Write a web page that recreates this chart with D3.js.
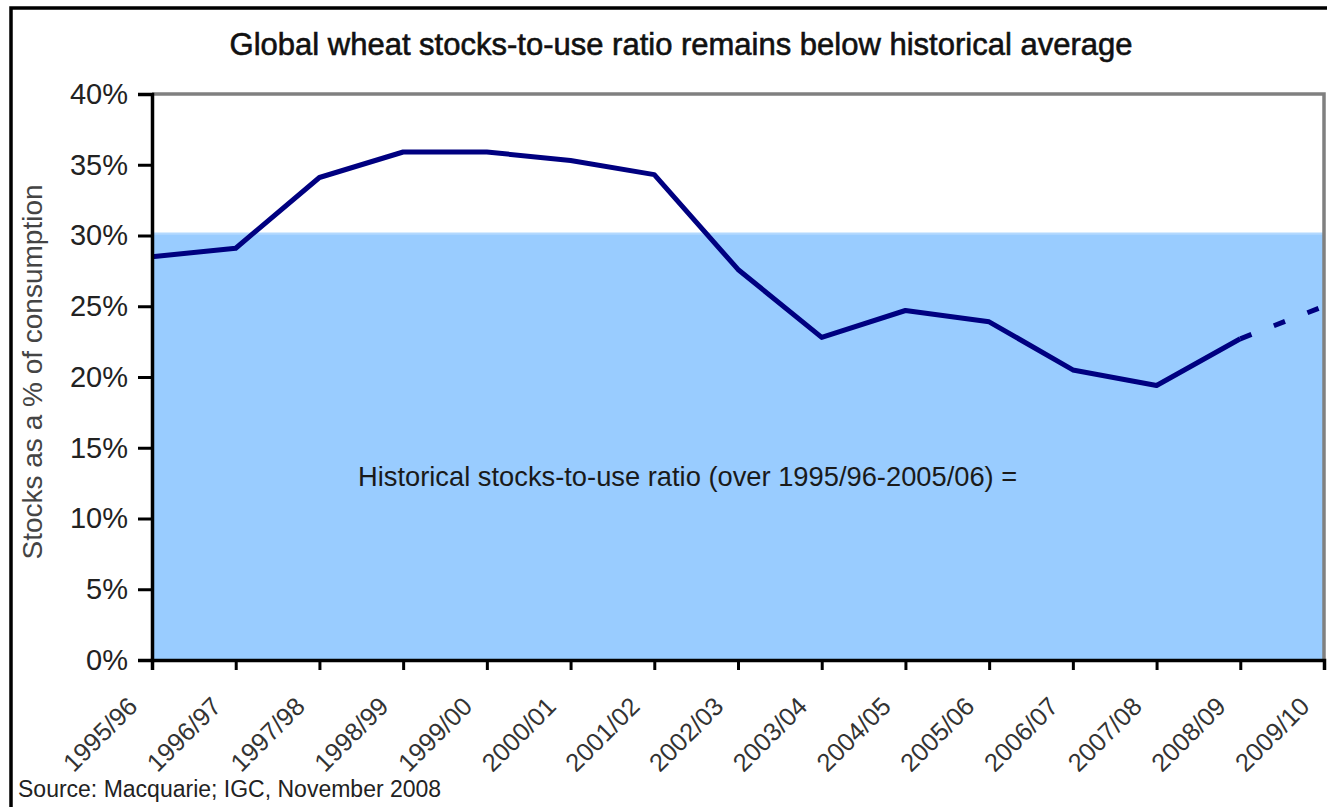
<!DOCTYPE html>
<html>
<head>
<meta charset="utf-8">
<script src="https://cdn.jsdelivr.net/npm/d3@7"></script>
<style>
  body { margin: 0; background: #fff; }
  svg text { font-family: "Liberation Sans", Arial, sans-serif; }
</style>
</head>
<body>
<div id="chart"></div>
<script>
// Global wheat stocks-to-use ratio (Macquarie; IGC, November 2008)

var seasons = ["1995/96", "1996/97", "1997/98", "1998/99", "1999/00", "2000/01", "2001/02",
  "2002/03", "2003/04", "2004/05", "2005/06", "2006/07", "2007/08", "2008/09", "2009/10"];
var stocksToUse = [28.5, 29.1, 34.1, 35.9, 35.9, 35.3, 34.3, 27.6, 22.8, 24.7, 23.9, 20.5, 19.4, 22.7, 25.0];
var historicalAvg = 30.2;
var yTicks = [0, 5, 10, 15, 20, 25, 30, 35, 40];

var width = 1327, height = 807;
var margin = { left: 152, right: 3, top: 94, bottom: 147 };

var svg = d3.select("#chart")
  .append("svg")
  .attr("width", width)
  .attr("height", height);

// outer frame
svg.append("rect")
  .attr("x", 11).attr("y", 8)
  .attr("width", width + 20).attr("height", height + 20)
  .attr("fill", "none").attr("stroke", "#000").attr("stroke-width", 3.5);

var x = d3.scalePoint()
  .domain(seasons)
  .range([margin.left, width - margin.right]);

var y = d3.scaleLinear()
  .domain([0, 40])
  .range([height - margin.bottom, margin.top]);

// historical average band
var band = d3.area()
  .x(function (d) { return x(d); })
  .y0(y(0))
  .y1(y(historicalAvg));

svg.append("path")
  .datum(seasons)
  .attr("d", band)
  .attr("fill", "#99ccff");

svg.append("line")
  .attr("x1", x(seasons[0])).attr("x2", x(seasons[seasons.length - 1]))
  .attr("y1", y(historicalAvg) + 1).attr("y2", y(historicalAvg) + 1)
  .attr("stroke", "#b3d9ff").attr("stroke-width", 2);

// plot frame (top / right)
svg.append("path")
  .attr("d", "M" + x.range()[0] + "," + y(40) + "H" + x.range()[1] + "V" + y(0))
  .attr("fill", "none").attr("stroke", "#808080").attr("stroke-width", 3.5);

// line
var line = d3.line()
  .x(function (d) { return x(d.season); })
  .y(function (d) { return y(d.value); });

var pts = seasons.map(function (s, i) { return { season: s, value: stocksToUse[i] }; });

svg.append("path")
  .datum(pts.slice(0, 14))
  .attr("d", line)
  .attr("fill", "none")
  .attr("stroke", "#000080")
  .attr("stroke-width", 5)
  .attr("stroke-linejoin", "round");

svg.append("path")
  .datum(pts.slice(13))
  .attr("d", line)
  .attr("fill", "none")
  .attr("stroke", "#000080")
  .attr("stroke-width", 5)
  .attr("stroke-dasharray", "12,24");

// axes
var yAxis = d3.axisLeft(y)
  .tickValues(yTicks)
  .tickSize(14)
  .tickPadding(10)
  .tickFormat(function (d) { return d + "%"; });

var gy = svg.append("g")
  .attr("transform", "translate(" + margin.left + ",0)")
  .call(yAxis);
gy.select(".domain").attr("stroke", "#000").attr("stroke-width", 3.5);
gy.selectAll(".tick line").attr("stroke", "#000").attr("stroke-width", 3);
gy.selectAll(".tick text")
  .attr("font-size", 29)
  .attr("fill", "#222");

var xAxis = d3.axisBottom(x).tickSize(10).tickFormat("");
var gx = svg.append("g")
  .attr("transform", "translate(0," + y(0) + ")")
  .call(xAxis);
gx.select(".domain").attr("stroke", "#000").attr("stroke-width", 3.5);
gx.selectAll(".tick line").attr("stroke", "#000").attr("stroke-width", 3);

svg.append("g")
  .selectAll("text")
  .data(seasons)
  .enter()
  .append("text")
  .attr("transform", function (d) {
    return "translate(" + (x(d) - 13) + "," + (y(0) + 48) + ") rotate(-45)";
  })
  .attr("text-anchor", "end")
  .attr("font-size", 25.5)
  .attr("fill", "#333")
  .text(function (d) { return d; });

// titles & notes
svg.append("text")
  .attr("x", 681).attr("y", 55)
  .attr("text-anchor", "middle")
  .attr("font-size", 31)
  .attr("fill", "#111")
  .attr("stroke", "#111")
  .attr("stroke-width", 0.6)
  .text("Global wheat stocks-to-use ratio remains below historical average");

svg.append("text")
  .attr("transform", "translate(42,372) rotate(-90)")
  .attr("text-anchor", "middle")
  .attr("font-size", 28)
  .attr("fill", "#444")
  .text("Stocks as a % of consumption");

svg.append("text")
  .attr("x", 358).attr("y", 486)
  .attr("font-size", 27.3)
  .attr("fill", "#1a1a1a")
  .text("Historical stocks-to-use ratio (over 1995/96-2005/06) =");

svg.append("text")
  .attr("x", 18).attr("y", 797)
  .attr("font-size", 23)
  .attr("fill", "#222")
  .text("Source: Macquarie; IGC, November 2008");
</script>
</body>
</html>
